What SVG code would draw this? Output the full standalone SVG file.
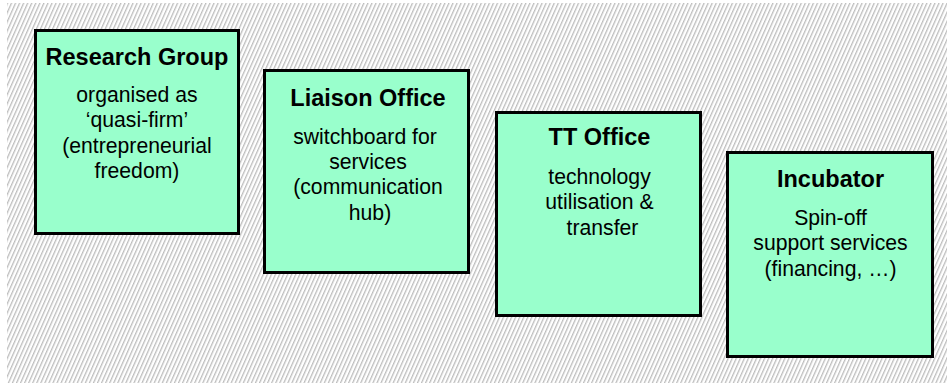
<svg xmlns="http://www.w3.org/2000/svg" width="947" height="383" viewBox="0 0 947 383">
<defs>
<pattern id="hatch" width="3.7" height="10" patternUnits="userSpaceOnUse" patternTransform="rotate(24)">
<rect x="0" y="0" width="1.3" height="10" fill="#bdbdbd"/>
</pattern>
<style>
.box{fill:#99ffcc;stroke:#000;stroke-width:3}
.t{font-family:"Liberation Sans",Arial,sans-serif;font-weight:bold;font-size:23.5px;fill:#000;text-anchor:middle}
.b{font-family:"Liberation Sans",Arial,sans-serif;font-size:21.2px;fill:#000;text-anchor:middle}
</style>
</defs>
<rect x="0" y="0" width="947" height="383" fill="#fff"/>
<rect x="7" y="3" width="940" height="380" fill="url(#hatch)"/>
<g id="connectors"/>
<g id="research-group">
<rect class="box" x="35.5" y="30.5" width="203" height="203"/>
<text class="t" x="137" y="65">Research Group</text>
<text class="b" x="137" y="102">organised as</text>
<text class="b" x="137" y="127">‘quasi-firm’</text>
<text class="b" x="137" y="153">(entrepreneurial</text>
<text class="b" x="137" y="178">freedom)</text>
</g>
<g id="liaison-office">
<rect class="box" x="264.5" y="70.5" width="204" height="202"/>
<text class="t" x="368" y="106">Liaison Office</text>
<text class="b" x="365" y="144">switchboard for</text>
<text class="b" x="368" y="169">services</text>
<text class="b" x="368" y="194">(communication</text>
<text class="b" x="370" y="220">hub)</text>
</g>
<g id="tt-office">
<rect class="box" x="496.5" y="112.5" width="204" height="203"/>
<text class="t" x="599.5" y="145">TT Office</text>
<text class="b" x="599.5" y="184">technology</text>
<text class="b" x="599.5" y="209">utilisation &amp;</text>
<text class="b" x="602.5" y="235">transfer</text>
</g>
<g id="incubator">
<rect class="box" x="727.5" y="152.5" width="205" height="204"/>
<text class="t" x="830.5" y="187">Incubator</text>
<text class="b" x="830.5" y="225">Spin-off</text>
<text class="b" x="830.5" y="250">support services</text>
<text class="b" x="830.5" y="276">(financing, …)</text>
</g>
</svg>
